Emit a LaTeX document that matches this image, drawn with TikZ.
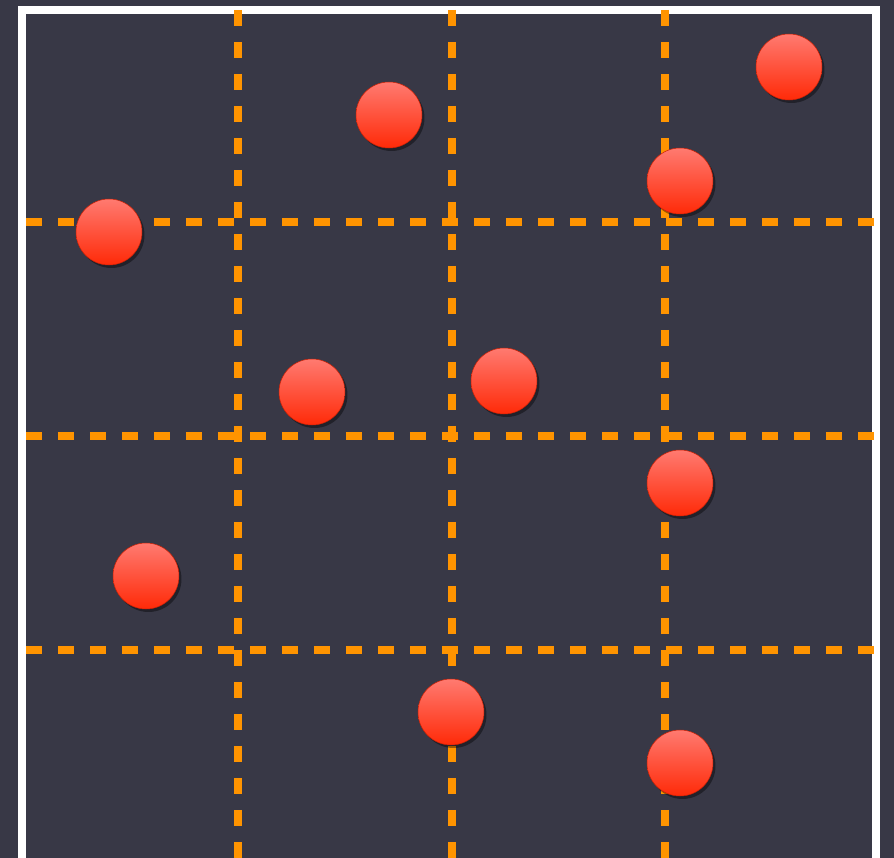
\documentclass[tikz,border=0pt]{standalone}
\usepackage{tikz}
\usetikzlibrary{shadows}

\definecolor{board}{RGB}{56,56,70}
\definecolor{gridline}{RGB}{255,148,0}
\definecolor{ballhi}{RGB}{255,122,112}
\definecolor{balllo}{RGB}{255,42,8}

\begin{document}
\begin{tikzpicture}[x=0.02cm,y=-0.02cm,
  ball/.style={circle,minimum size=1.32cm,inner sep=0pt,draw=balllo!80!black,line width=0.3pt,
    top color=ballhi,bottom color=balllo,
    drop shadow={fill=black,opacity=0.4,shadow xshift=0.05cm,shadow yshift=-0.06cm}},
  cut/.style={gridline,line width=0.165cm,dash pattern=on 0.32cm off 0.32cm}]
% ---- board and frame ----
\fill[board] (0,0) rectangle (894,858);
\useasboundingbox (0,0) rectangle (894,858);
\begin{scope}
\clip (0,0) rectangle (894,858);
\draw[white,line width=0.15cm] (22,900) -- (22,10) -- (876,10) -- (876,900);
\end{scope}
% ---- dashed cells ----
\foreach \gx in {238,452,665}
  \draw[cut] (\gx,10) -- (\gx,858);
\foreach \gy in {222,436,650}
  \draw[cut] (26,\gy) -- (874,\gy);
% ---- points ----
\node[ball] (p1)  at (389,115) {};
\node[ball] (p2)  at (789,67)  {};
\node[ball] (p3)  at (680,181) {};
\node[ball] (p4)  at (109,232) {};
\node[ball] (p5)  at (312,392) {};
\node[ball] (p6)  at (504,381) {};
\node[ball] (p7)  at (680,483) {};
\node[ball] (p8)  at (146,576) {};
\node[ball] (p9)  at (451,712) {};
\node[ball] (p10) at (680,763) {};
\end{tikzpicture}
\end{document}
